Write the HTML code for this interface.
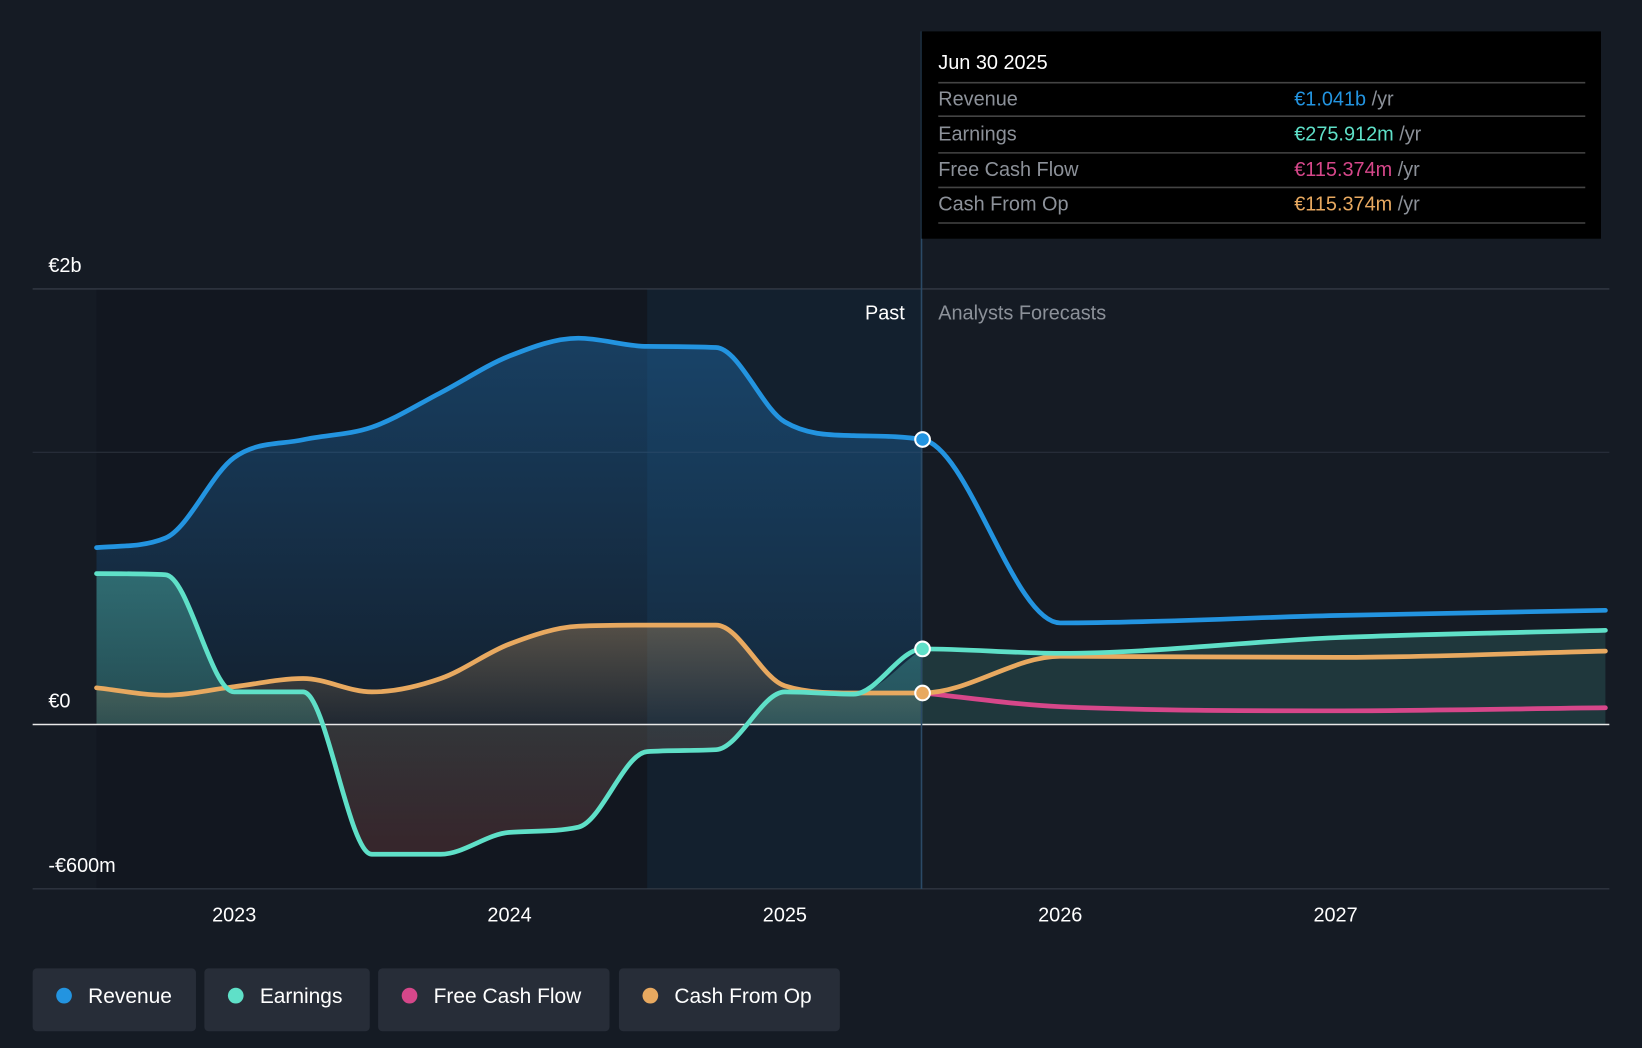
<!DOCTYPE html>
<html><head><meta charset="utf-8"><style>
html,body{margin:0;padding:0;background:#151b24;overflow:hidden}
svg{display:block;font-family:"Liberation Sans",sans-serif}
</style></head><body>
<svg id="c" width="1642" height="1048" viewBox="0 0 1568 1001">
<defs>
<linearGradient id="revG" x1="0" y1="0" x2="0" y2="1"><stop offset="0" stop-color="#1f6fb0" stop-opacity="0.45"/><stop offset="1" stop-color="#1f6fb0" stop-opacity="0.1"/></linearGradient>
<linearGradient id="earnG" x1="0" y1="0" x2="0" y2="1"><stop offset="0" stop-color="#5fe0c8" stop-opacity="0.35"/><stop offset="1" stop-color="#5fe0c8" stop-opacity="0.1"/></linearGradient>
<linearGradient id="cashG" x1="0" y1="0" x2="0" y2="1"><stop offset="0" stop-color="#e8a960" stop-opacity="0.3"/><stop offset="1" stop-color="#e8a960" stop-opacity="0.06"/></linearGradient>
<linearGradient id="negG" x1="0" y1="0" x2="0" y2="1"><stop offset="0" stop-color="#4a1c22" stop-opacity="0.2"/><stop offset="1" stop-color="#5a1e24" stop-opacity="0.45"/></linearGradient>
</defs>
<rect x="92" y="276" width="526" height="573" fill="#121720"/>
<rect x="618" y="276" width="262" height="573" fill="#13202e"/>
<line x1="31" y1="276" x2="1537" y2="276" stroke="#3a414c"/>
<line x1="31" y1="432" x2="1537" y2="432" stroke="#2c333e"/>
<line x1="31" y1="849" x2="1537" y2="849" stroke="#3a414c"/>
<g id="areas"></g>
<line x1="31" y1="692" x2="1537" y2="692" stroke="#e8e8e8" stroke-width="1.5"/>
<g id="lines"></g>
<line x1="880" y1="30" x2="880" y2="849" stroke="#2b4a66" stroke-width="1.5"/>
<text x="46" y="260" fill="#fff" font-size="19">€2b</text>
<text x="46" y="676" fill="#fff" font-size="19">€0</text>
<text x="46" y="833" fill="#fff" font-size="19">-€600m</text>
<text x="864" y="305" fill="#fff" font-size="19" text-anchor="end">Past</text>
<text x="896" y="305" fill="#8c9199" font-size="19">Analysts Forecasts</text>
<g id="xt"></g>
<g id="dots"></g>
<g>
<rect x="880" y="30" width="649" height="198" fill="#000"/>
<text x="896" y="66" fill="#fff" font-size="19">Jun 30 2025</text>
<g stroke="#444" stroke-width="1.5"><line x1="896" y1="79" x2="1514" y2="79"/><line x1="896" y1="111" x2="1514" y2="111"/><line x1="896" y1="146" x2="1514" y2="146"/><line x1="896" y1="179" x2="1514" y2="179"/><line x1="896" y1="213" x2="1514" y2="213"/></g>
<g font-size="19" fill="#8c9199">
<text x="896" y="101">Revenue</text><text x="896" y="134">Earnings</text><text x="896" y="168">Free Cash Flow</text><text x="896" y="201">Cash From Op</text>
<text x="1236" y="101"><tspan fill="#2394e0">€1.041b</tspan> /yr</text>
<text x="1236" y="134"><tspan fill="#5fe0c8">€275.912m</tspan> /yr</text>
<text x="1236" y="168"><tspan fill="#d6478a">€115.374m</tspan> /yr</text>
<text x="1236" y="201"><tspan fill="#e8a960">€115.374m</tspan> /yr</text>
</g></g>
<g id="legend"></g>
</svg>
<script>
const revT=[2022.5,2022.75,2023,2023.25,2023.5,2023.75,2024,2024.25,2024.5,2024.75,2025,2025.25,2025.5,2026,2027,2027.98];
const revV=[646,681,975,1040,1086,1212,1346,1411,1381,1377,1105,1055,1041,371,398,417];
const earnT=[2022.5,2022.75,2023,2023.25,2023.5,2023.75,2024,2024.25,2024.5,2024.75,2025,2025.25,2025.5,2026,2027,2027.98];
const earnV=[551,547,119,119,-474,-474,-394,-375,-99,-92,119,111,276,260,317,344];
const cashT=[2022.5,2022.75,2023,2023.25,2023.5,2023.75,2024,2024.25,2024.5,2024.75,2025,2025.25,2025.5,2026,2027,2027.98];
const cashV=[134,107,138,168,119,168,294,359,363,363,141,115,115,249,245,268];
const fcfT=[2025.5,2026,2027,2027.98];
const fcfV=[115,65,50,61];
const xTicks=[2023,2024,2025,2026,2027];
const NOW=2025.5;
const X=t=>92+(t-2022.5)*263, Y=v=>692-v*0.2615;
const NS='http://www.w3.org/2000/svg';
function mk(tag,attrs,parent){const e=document.createElementNS(NS,tag);for(const k in attrs)e.setAttribute(k,attrs[k]);parent.appendChild(e);return e;}
function mono(ts,vs){const p=ts.map((t,i)=>[X(t),Y(vs[i])]);const n=p.length;if(n<2)return '';
const d=[],m=[];for(let i=0;i<n-1;i++)d.push((p[i+1][1]-p[i][1])/(p[i+1][0]-p[i][0]));
m[0]=d[0];m[n-1]=d[n-2];for(let i=1;i<n-1;i++){m[i]=d[i-1]*d[i]<=0?0:(d[i-1]+d[i])/2;}
for(let i=0;i<n-1;i++){if(d[i]===0){m[i]=0;m[i+1]=0;continue;}const a=m[i]/d[i],b=m[i+1]/d[i],s=a*a+b*b;if(s>9){const t=3/Math.sqrt(s);m[i]=t*a*d[i];m[i+1]=t*b*d[i];}}
let s='M'+p[0][0]+','+p[0][1];for(let i=0;i<n-1;i++){const h=(p[i+1][0]-p[i][0])/3;s+=' C'+(p[i][0]+h)+','+(p[i][1]+m[i]*h)+' '+(p[i+1][0]-h)+','+(p[i+1][1]-m[i+1]*h)+' '+p[i+1][0]+','+p[i+1][1];}return s;}
function split(ts,vs,past){const T=[],V=[];ts.forEach((t,i)=>{if(past?t<=NOW:t>=NOW){T.push(t);V.push(vs[i]);}});return [T,V];}
function area(ts,vs){return mono(ts,vs)+' L'+X(ts[ts.length-1])+','+Y(0)+' L'+X(ts[0])+','+Y(0)+' Z';}
const A=document.getElementById('areas'),L=document.getElementById('lines');
let [rt,rv]=split(revT,revV,true);
let el=mk('path',{d:area(rt,rv),fill:'url(#revG)'},A);


let [et,ev]=split(earnT,earnV,true);
el=mk('path',{d:area(et,ev),fill:'url(#earnG)'},A);


const cp=mk('clipPath',{id:'negclip'},A);mk('rect',{x:0,y:Y(0),width:1568,height:300},cp);
el=mk('path',{d:area(et,ev),fill:'url(#negG)','clip-path':'url(#negclip)'},A);


let [ct,cv]=split(cashT,cashV,true);
el=mk('path',{d:area(ct,cv),fill:'url(#cashG)'},A);


let [eft,efv]=split(earnT,earnV,false);
el=mk('path',{d:area(eft,efv),fill:'#5fe0c8','fill-opacity':'0.15'},A);


function line(ts,vs,color,name){const e=mk('path',{d:mono(ts,vs),fill:'none',stroke:color,'stroke-width':4.5,'stroke-linecap':'round'},L);

}
line(fcfT,fcfV,'#d6478a','fcf-line');
line(cashT,cashV,'#e8a960','cash-from-op-line');
line(earnT,earnV,'#5fe0c8','earnings-line');
line(revT,revV,'#2394e0','revenue-line');
const XT=document.getElementById('xt');
xTicks.forEach(t=>{const e=mk('text',{x:X(t),y:880,fill:'#fff','font-size':19,'text-anchor':'middle'},XT);e.textContent=t;

});
const D=document.getElementById('dots');
[[revT,revV,'#2394e0','revenue'],[earnT,earnV,'#5fe0c8','earnings'],[cashT,cashV,'#e8a960','cash-from-op']].forEach(([ts,vs,c,n])=>{const i=ts.indexOf(NOW);
const e=mk('circle',{cx:X(NOW),cy:Y(vs[i]),r:7,fill:c,stroke:'#fff','stroke-width':2},D);

});
const LG=document.getElementById('legend');
[['Revenue','#2394e0',31,156],['Earnings','#5fe0c8',195,158],['Free Cash Flow','#d6478a',361,221],['Cash From Op','#e8a960',591,211]].forEach(([t,c,x,w])=>{
const g=mk('g',{},LG);


mk('rect',{x:x,y:925,width:w,height:60,rx:4,fill:'#272d38'},g);
mk('circle',{cx:x+30,cy:951,r:7.5,fill:c},g);
const tx=mk('text',{x:x+53,y:958,fill:'#fff','font-size':20},g);tx.textContent=t;});
</script>
</body></html>
